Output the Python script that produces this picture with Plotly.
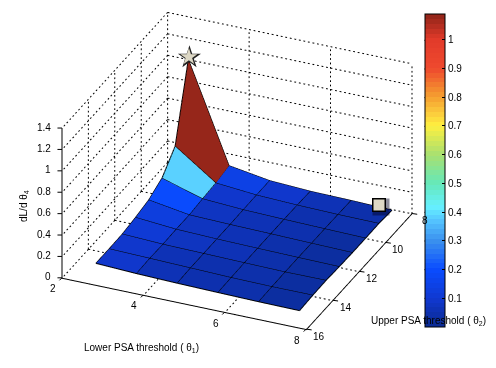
import numpy as np
import plotly.graph_objects as go

# data
theta1 = [2.67, 3.67, 4.67, 5.67, 6.67, 7.67]
theta2 = [15.5, 14.5, 13.5, 12.5, 11.5, 10.5, 9.5, 8.5]
z_rows = [
    [.125, .124, .127, .147, .175, .243, .407, 1.083],
    [.109, .115, .111, .116, .115, .130, .143, .170],
    [.099, .105, .105, .105, .105, .108, .110, .110],
    [.092, .095, .098, .098, .098, .098, .096, .091],
    [.086, .090, .092, .092, .090, .090, .088, .085],
    [.083, .091, .094, .087, .083, .083, .085, .075],
]
cell_values = [
    [.10, .10, .11, .13, .20, .39, 1.08],
    [.06, .06, .07, .07, .08, .09, .14],
    [.05, .05, .055, .055, .06, .07, .10],
    [.04, .04, .04, .045, .05, .05, .06],
    [.03, .03, .03, .03, .03, .04, .04],
]
x_ticks = [2, 4, 6, 8]
y_ticks = [8, 10, 12, 14, 16]
z_ticks = [0, .2, .4, .6, .8, 1, 1.2, 1.4]
z_tick_labels = ['0', '0.2', '0.4', '0.6', '0.8', '1', '1.2', '1.4']
bar_ticks = [.1, .2, .3, .4, .5, .6, .7, .8, .9, 1]
star_point = (2.67, 8.5, 1.105)
square_point = (7.36, 8.4, 0.08)
cmin, cmax = 0.0, 1.09
map_values = [0, .1, .2, .3, .37, .42, .5, .6, .7, .75, .8, .9, 1.0, 1.09]
map_colors = ['#0A2A90', '#1038D0', '#0A4CFF', '#3A90EE', '#55C5FF', '#66F0FF', '#66E8B8',
              '#A8E070', '#FFF040', '#FBC83C', '#F5A030', '#EE4A2E', '#E23A2A', '#8E2418']

FONT = 'Liberation Sans'
CREAM = '#DDD8C5'

def rgb(h):
    return [int(h[i:i + 2], 16) for i in (1, 3, 5)]

levels = 64
stops = np.array([rgb(c) for c in map_colors], float)
scale = []
for k in range(levels):
    v = (k + .5) / levels * (cmax - cmin) + cmin
    c = [int(round(np.interp(v, map_values, stops[:, n]))) for n in range(3)]
    col = f'rgb({c[0]},{c[1]},{c[2]})'
    scale += [[k / levels, col], [(k + 1) / levels, col]]

nx, ny = len(theta1), len(theta2)
vx, vy, vz = [], [], []
for i in range(nx):
    for j in range(ny):
        vx.append(theta1[i]); vy.append(theta2[j]); vz.append(z_rows[i][j])
fi, fj, fk, fval = [], [], [], []
for i in range(nx - 1):
    for j in range(ny - 1):
        a = i * ny + j; b = (i + 1) * ny + j; c = (i + 1) * ny + j + 1; d = i * ny + j + 1
        fi += [a, a]; fj += [b, c]; fk += [c, d]
        fval += [cell_values[i][j]] * 2

BAR_L, BAR_R, BAR_T, BAR_B = 424.5, 444.5, 14.5, 327

fig = go.Figure()
fig.add_trace(go.Mesh3d(
    x=vx, y=vy, z=vz, i=fi, j=fj, k=fk, intensity=fval, intensitymode='cell',
    colorscale=scale, cmin=cmin, cmax=cmax, flatshading=True, hoverinfo='skip',
    lighting=dict(ambient=1, diffuse=0, specular=0, fresnel=0, roughness=1),
    colorbar=dict(x=BAR_L / 496, xanchor='left', y=1 - BAR_B / 368, yanchor='bottom',
                  len=(BAR_B - BAR_T) / 368, lenmode='fraction', thickness=BAR_R - BAR_L, thicknessmode='pixels',
                  tickvals=bar_ticks, ticktext=[f'{t:g}' for t in bar_ticks], ticks='inside',
                  ticklen=3, tickcolor='black', tickwidth=1,
                  outlinecolor='black', outlinewidth=1, xpad=0, ypad=0,
                  tickfont=dict(family=FONT, size=10, color='black')),
))

# surface edges
ex, ey, ez = [], [], []
for i in range(nx):
    ex += [theta1[i]] * ny + [None]; ey += theta2 + [None]; ez += z_rows[i] + [None]
for j in range(ny):
    ex += theta1 + [None]; ey += [theta2[j]] * nx + [None]; ez += [z_rows[i][j] for i in range(nx)] + [None]
fig.add_trace(go.Scatter3d(x=ex, y=ey, z=ez, mode='lines', line=dict(color='black', width=2),
                           hoverinfo='skip', showlegend=False))

# dotted grid on floor and two back walls, as short pieces
x0, x1 = x_ticks[0], x_ticks[-1]
y0, y1 = y_ticks[0], y_ticks[-1]
z0, z1 = z_ticks[0], z_ticks[-1]
gx, gy, gz = [], [], []
def seg(a, b, n):
    a = np.array(a, float); b = np.array(b, float)
    for k in range(n):
        p = a + (b - a) * k / n
        q = a + (b - a) * (k + .4) / n
        gx.extend([p[0], q[0], None]); gy.extend([p[1], q[1], None]); gz.extend([p[2], q[2], None])
NX, NY, NZ = 54, 36, 34
for t in x_ticks:
    seg((t, y0, z0), (t, y1, z0), NY)
    seg((t, y0, z0), (t, y0, z1), NZ)
for t in y_ticks:
    seg((x0, t, z0), (x1, t, z0), NX)
    seg((x0, t, z0), (x0, t, z1), NZ)
for t in z_ticks:
    seg((x0, y0, t), (x1, y0, t), NX)
    seg((x0, y0, t), (x0, y1, t), NY)
fig.add_trace(go.Scatter3d(x=gx, y=gy, z=gz, mode='lines',
                           line=dict(color='black', width=2),
                           hoverinfo='skip', showlegend=False))

def note(x, y, z, text, xs=0, ys=0, **kw):
    return dict(x=x, y=y, z=z, text=text, showarrow=False, xshift=xs, yshift=ys,
                font=dict(family=FONT, size=kw.pop('size', 10), color=kw.pop('color', 'black')), **kw)

def tick(x, y, z, ax, ay):
    return dict(x=x, y=y, z=z, text=' ', showarrow=True, arrowhead=0, arrowwidth=1, arrowcolor='black',
                ax=ax, ay=ay, standoff=0, startstandoff=0, font=dict(size=1))

ann = []
for t in x_ticks:
    ann.append(note(t, y1, z0, str(t), -9, -11))
    ann.append(tick(t, y1, z0, -4, 4))
for t in y_ticks:
    ann.append(note(x1, t, z0, str(t), 13, -7))
    ann.append(tick(x1, t, z0, 7, 1))
for t, s in zip(z_ticks, z_tick_labels):
    ann.append(note(x0, y1, t, s, -9, 1, xanchor='right'))
    ann.append(tick(x0, y1, t, -6, 0))
ann.append(note(*star_point, '★', 1, 0, size=30, color='#222222'))
ann.append(note(*star_point, '★', 1, 0, size=22, color=CREAM))
ann.append(note(*square_point, ' ', 0.5, -1.5, width=14, height=14, bgcolor='rgba(0,0,30,0.45)'))
ann.append(note(*square_point, ' ', -1, 0, width=11, height=11, bgcolor=CREAM, bordercolor='black', borderwidth=1.5, borderpad=0))

axis = dict(showbackground=False, showgrid=False, zeroline=False, showspikes=False,
            showline=True, linecolor='black', linewidth=2, ticks='', showticklabels=False, title=dict(text=''))
shapes = []
for t in bar_ticks:
    yp = BAR_B + (BAR_T - BAR_B) * (t - cmin) / (cmax - cmin)
    shapes.append(dict(type='line', xref='paper', yref='paper', x0=BAR_L / 496, x1=(BAR_L + 3.5) / 496,
                       y0=1 - yp / 368, y1=1 - yp / 368, line=dict(color='black', width=1)))
title_font = dict(family=FONT, size=10, color='black')
fig.update_layout(
    width=496, height=368, autosize=False, paper_bgcolor='white',
    margin=dict(l=0, r=0, t=0, b=0, autoexpand=False), showlegend=False, shapes=shapes,
    scene=dict(
        domain=dict(x=[0, 0.955], y=[0.072, 1]),
        xaxis=dict(axis, range=[x0, x1], tickvals=x_ticks),
        yaxis=dict(axis, range=[y1, y0], tickvals=y_ticks),
        zaxis=dict(axis, range=[z0, z1], tickvals=z_ticks),
        aspectmode='manual', aspectratio=dict(x=1.56, y=1.54, z=1.0),
        camera=dict(projection=dict(type='orthographic'), up=dict(x=0, y=0, z=1),
                    center=dict(x=0, y=0, z=0),
                    eye=dict(x=.3519 * 2, y=-.8037 * 2, z=.4802 * 2)),
        annotations=ann,
    ),
    annotations=[
        dict(x=141 / 496, y=1 - 356 / 368, xref='paper', yref='paper', showarrow=False, xanchor='center',
             text='Lower PSA threshold ( θ<sub>1</sub>)', font=title_font),
        dict(x=428 / 496, y=1 - 329 / 368, xref='paper', yref='paper', showarrow=False, xanchor='center',
             text='Upper PSA threshold ( θ<sub>2</sub>)', font=title_font),
        dict(x=24 / 496, y=1 - 206 / 368, xref='paper', yref='paper', showarrow=False, textangle=-90, xanchor='center',
             text='dL/d θ<sub>4</sub>', font=title_font),
    ],
)
fig.write_html('out.html', post_script="document.body.style.margin='0';",
               config=dict(displayModeBar=False))
